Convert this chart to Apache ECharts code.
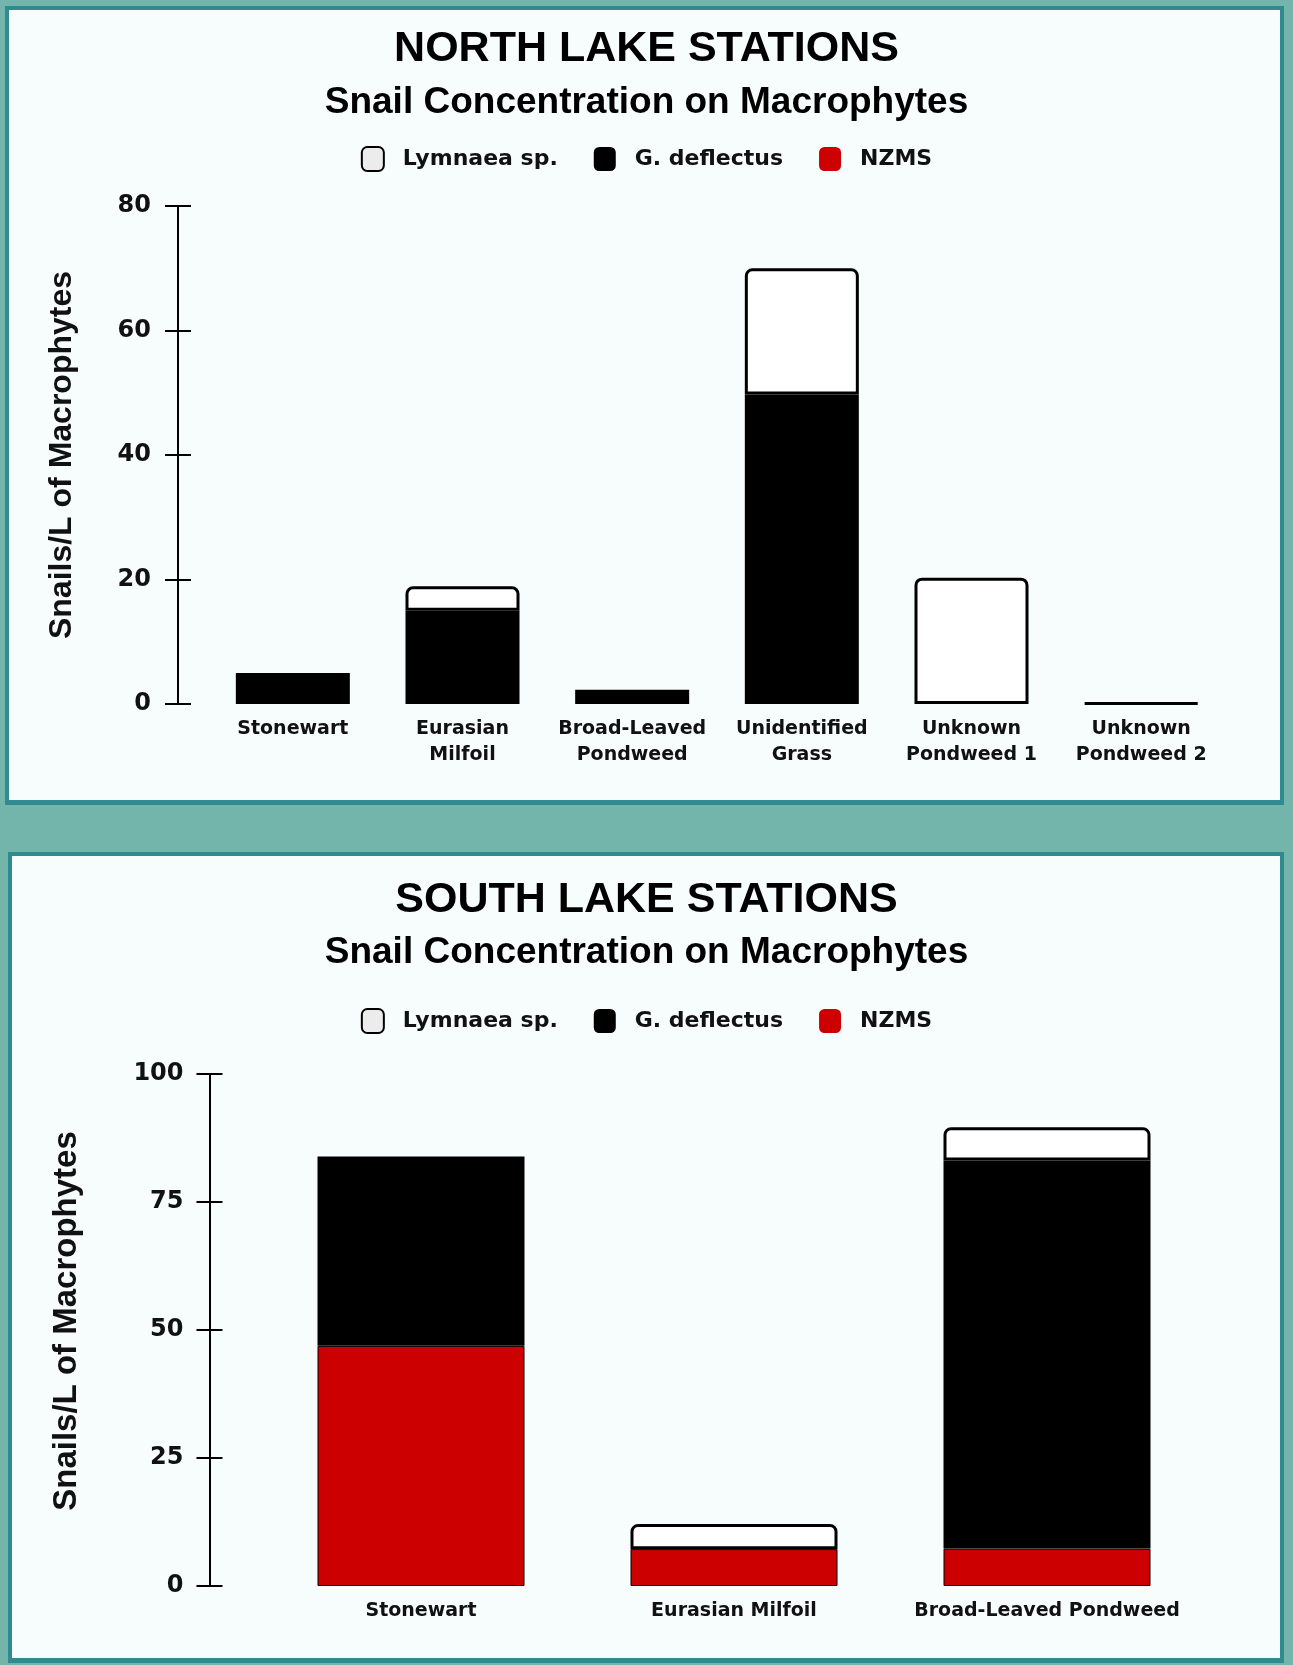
<!DOCTYPE html>
<html>
<head>
<meta charset="utf-8">
<script src="https://cdn.jsdelivr.net/npm/echarts@6/dist/echarts.min.js"></script>
<style>
  html, body { margin: 0; padding: 0; }
  body { width: 1293px; height: 1665px; background: #73b5aa; position: relative; overflow: hidden; }
  .panel { position: absolute; box-sizing: border-box; background: #f7fdfc; border: 4px solid #2f8b8f; border-bottom-width: 5px; }
  #p1 { left: 5px; top: 6px; width: 1279px; height: 799px; }
  #p2 { left: 8px; top: 852px; width: 1276px; height: 811px; }
  #chart { position: absolute; left: 0; top: 0; width: 1293px; height: 1665px; }
</style>
</head>
<body>
<div class="panel" id="p1"></div>
<div class="panel" id="p2"></div>
<div id="chart"></div>
<script>
// north lake stations
const northCats = ['Stonewart', 'Eurasian\nMilfoil', 'Broad-Leaved\nPondweed', 'Unidentified\nGrass', 'Unknown\nPondweed 1', 'Unknown\nPondweed 2']
const northLymnaea = [0, 3.9, 0, 20.3, 20.3, 0.15]
const northDeflectus = [5, 15, 2.3, 49.7, 0, 0]
const northNZMS = [0, 0, 0, 0, 0, 0]
const northTicks = { min: 0, max: 80, interval: 20 }

// south lake stations
const southCats = ['Stonewart', 'Eurasian Milfoil', 'Broad-Leaved Pondweed']
const southLymnaea = [0, 4.9, 6.5]
const southDeflectus = [37, 0, 75.8]
const southNZMS = [46.9, 7.2, 7.3]
const southTicks = { min: 0, max: 100, interval: 25 }

const names = ['Lymnaea sp.', 'G. deflectus', 'NZMS']
const labelFont = 'DejaVu Sans'
const titleFont = 'Liberation Sans'

const myChart = echarts.init(document.getElementById('chart'), null, { renderer: 'canvas' })

// zero values are left out so no empty border is drawn
const clean = arr => arr.map(v => (v === 0 ? '-' : v))

const makeSeries = (idx, lym, defl, nzms, barWidth) => {
  const base = { type: 'bar', stack: 'snails' + idx, xAxisIndex: idx, yAxisIndex: idx * 2, barWidth: barWidth }
  return [
    Object.assign({}, base, {
      name: 'NZMS',
      itemStyle: { color: '#cc0000', borderColor: '#000', borderWidth: idx === 1 ? 1 : 0 },
      data: clean(nzms)
    }),
    Object.assign({}, base, {
      name: 'G. deflectus',
      itemStyle: { color: '#000000' },
      data: clean(defl)
    }),
    Object.assign({}, base, {
      name: 'Lymnaea sp.',
      itemStyle: { color: '#ffffff', borderColor: '#000', borderWidth: 3, borderRadius: [6, 6, 0, 0] },
      data: clean(lym)
    })
  ]
}

const makeYAxes = (idx, ticks, offset, margin, nameGap, nameSize, nameShift) => {
  const common = {
    type: 'value',
    gridIndex: idx,
    position: 'left',
    min: ticks.min,
    max: ticks.max,
    interval: ticks.interval,
    offset: offset,
    splitLine: { show: false },
    axisLine: { show: true, lineStyle: { color: '#000', width: 2 } }
  }
  return [
    Object.assign({}, common, {
      name: 'Snails/L of Macrophytes',
      nameLocation: 'middle',
      nameGap: nameGap,
      nameTextStyle: { fontFamily: titleFont, fontWeight: 'bold', fontSize: nameSize, color: '#111', padding: [0, 0, 0, nameShift] },
      axisTick: { show: true, length: 13, lineStyle: { color: '#000', width: 2 } },
      axisLabel: { margin: margin, padding: [5, 0, 0, 0], fontFamily: labelFont, fontWeight: 'bold', fontSize: 24, color: '#111' }
    }),
    // second axis only adds the inner half of each tick
    Object.assign({}, common, {
      axisTick: { show: true, inside: true, length: 13, lineStyle: { color: '#000', width: 2 } },
      axisLabel: { show: false }
    })
  ]
}

const makeXAxis = (idx, cats) => ({
  type: 'category',
  gridIndex: idx,
  data: cats,
  axisLine: { show: false },
  axisTick: { show: false },
  axisLabel: { margin: 12, interval: 0, fontFamily: labelFont, fontWeight: 'bold', fontSize: 19, lineHeight: 26, color: '#111' }
})

const makeLegend = (top) => ({
  top: top,
  left: 'center',
  padding: 0,
  itemWidth: 22,
  itemHeight: 24,
  itemGap: 36,
  icon: 'roundRect',
  textStyle: { fontFamily: labelFont, fontWeight: 'bold', fontSize: 22, color: '#111', padding: [0, 0, 0, 14] },
  data: [
    { name: names[0], itemStyle: { color: '#ececec', borderColor: '#000', borderWidth: 2 } },
    { name: names[1], itemStyle: { color: '#000', borderWidth: 0 } },
    { name: names[2], itemStyle: { color: '#cc0000', borderWidth: 0 } }
  ]
})

const title = (text, top, size) => ({
  text: text,
  left: 'center',
  top: top,
  padding: 0,
  textStyle: { fontFamily: titleFont, fontWeight: 'bold', fontSize: size, lineHeight: size, color: '#000' }
})

const options = {
  animation: false,
  title: [
    title('NORTH LAKE STATIONS', 28, 43),
    title('Snail Concentration on Macrophytes', 84, 37),
    title('SOUTH LAKE STATIONS', 879, 43),
    title('Snail Concentration on Macrophytes', 934, 37)
  ],
  legend: [makeLegend(146), makeLegend(1008)],
  grid: [
    { left: 208, right: 67, top: 206, height: 498 },
    { left: 264.5, right: 89.5, top: 1074, height: 512 }
  ],
  xAxis: [makeXAxis(0, northCats), makeXAxis(1, southCats)],
  yAxis: makeYAxes(0, northTicks, 30, 27, 100, 32, 0).concat(makeYAxes(1, southTicks, 55, 26, 126, 33, 18)),
  series: makeSeries(0, northLymnaea, northDeflectus, northNZMS, 114)
    .concat(makeSeries(1, southLymnaea, southDeflectus, southNZMS, 207))
}
myChart.setOption(options)
</script>
</body>
</html>
